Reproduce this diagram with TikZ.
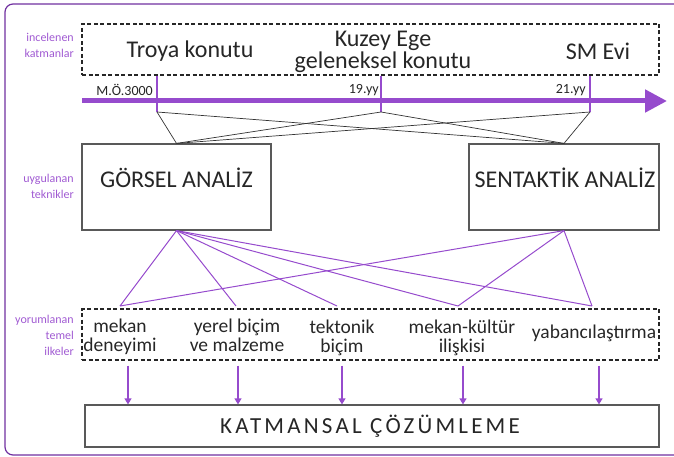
\documentclass[tikz,border=0pt]{standalone}
\usepackage{fontspec}
\setmainfont{Carlito}
\newfontfamily\genis[LetterSpace=14]{Carlito}
\usetikzlibrary{arrows.meta}

\definecolor{mor}{RGB}{150,75,205}
\definecolor{acikmor}{RGB}{160,90,210}
\definecolor{koyumor}{RGB}{112,48,160}

\begin{document}
\begin{tikzpicture}[x=1pt, y=-1pt,
    kutu/.style={draw=black!65, line width=1.2pt, inner sep=0pt},
    kesikkutu/.style={draw=black!85, line width=1.1pt, dash pattern=on 4pt off 2.5pt, inner sep=0pt},
    yan/.style={text=acikmor, align=right, anchor=east, inner sep=0pt, font=\fontsize{12}{16}\selectfont},
    katmanyazi/.style={text=black!85, align=center, inner sep=0pt, font=\fontsize{24}{20}\selectfont},
    ilkeyazi/.style={text=black!85, align=center, inner sep=0pt, font=\fontsize{19.5}{19}\selectfont},
    tarih/.style={text=black!85, anchor=east, inner sep=0pt, font=\fontsize{14}{14}\selectfont},
    baglanti/.style={black!80, line width=0.7pt},
    morbag/.style={mor, line width=1pt},
    ok/.style={mor, line width=1.2pt, -{Triangle[length=6pt,width=7pt]}}]
    \useasboundingbox (0,0) rectangle (674,457);

    % outer frame
    \draw[koyumor, line width=1.2pt, rounded corners=8pt] (5,4) rectangle (700,455);

    % side labels
    \node[yan] (incelenen) at (74,45) {incelenen\\katmanlar};
    \node[yan] (uygulanan) at (74,186) {uygulanan\\teknikler};
    \node[yan] (yorumlanan) at (74,335) {yorumlanan\\temel\\ilkeler};

    % layers
    \node[kesikkutu, minimum width=577pt, minimum height=51pt] (katmanlar) at (370.5,49.5) {};
    \node[katmanyazi] (troya) at (190,51) {Troya konutu};
    \node[katmanyazi] (kuzeyege) at (383,52) {Kuzey Ege\\geleneksel konutu};
    \node[katmanyazi] (smevi) at (598,51) {SM Evi};

    % time line
    \draw[mor, line width=5pt, -{Triangle[length=22pt,width=22pt]}] (82,101) coordinate (zamanbas) -- (667,101) coordinate (zamanson);
    \foreach \x/\ad in {157/t1, 381/t2, 590/t3}
        \draw[mor, line width=2pt] (\x,76) -- (\x,112) coordinate (\ad);
    \node[tarih] (mo) at (153,90) {M.Ö.3000};
    \node[tarih] (yy19) at (379,90) {19.yy};
    \node[tarih] (yy21) at (586,90) {21.yy};

    % techniques
    \node[kutu, minimum width=189pt, minimum height=86pt] (gorsel) at (176.5,187) {};
    \node[katmanyazi] (gorselyazi) at (176.5,178) {GÖRSEL ANALİZ};
    \node[kutu, minimum width=190pt, minimum height=86pt] (sentaktik) at (564,187) {};
    \node[katmanyazi] (sentaktikyazi) at (565,178) {SENTAKTİK ANALİZ};

    \foreach \t in {t1,t2,t3} {
        \draw[baglanti] (\t) -- (gorsel.north);
        \draw[baglanti] (\t) -- (sentaktik.north);
    }

    % principles
    \node[kesikkutu, minimum width=577pt, minimum height=51pt] (ilkeler) at (370.5,334.5) {};
    \node[ilkeyazi] (mekan) at (120,337) {mekan\\deneyimi};
    \node[ilkeyazi] (yerel) at (237,335) {yerel biçim\\ve malzeme};
    \node[ilkeyazi] (tektonik) at (342,338) {tektonik\\biçim};
    \node[ilkeyazi] (kultur) at (462,338) {mekan-kültür\\ilişkisi};
    \node[ilkeyazi] (yabanci) at (594,333) {yabancılaştırma};

    \foreach \x/\ad in {120/u1, 236/u2, 337/u3, 458/u4, 592/u5}
        \coordinate (\ad) at (\x,306);
    \foreach \u in {u1,u2,u3,u4,u5}
        \draw[morbag] (gorsel.south) -- (\u);
    \foreach \u in {u1,u4,u5}
        \draw[morbag] (sentaktik.south) -- (\u);

    % result
    \node[kutu, minimum width=574pt, minimum height=42pt] (katmansal) at (372,426) {};
    \node[text=black!85, inner sep=0pt, font=\genis\fontsize{23}{24}\selectfont] (katmansalyazi) at (370,426) {KATMANSAL ÇÖZÜMLEME};

    \foreach \x in {128,238,342,463,599} {
        \coordinate (ok\x) at (\x,0);
        \draw[ok, shorten <=5pt] (ilkeler.south -| ok\x) -- (katmansal.north -| ok\x);
    }
\end{tikzpicture}
\end{document}
